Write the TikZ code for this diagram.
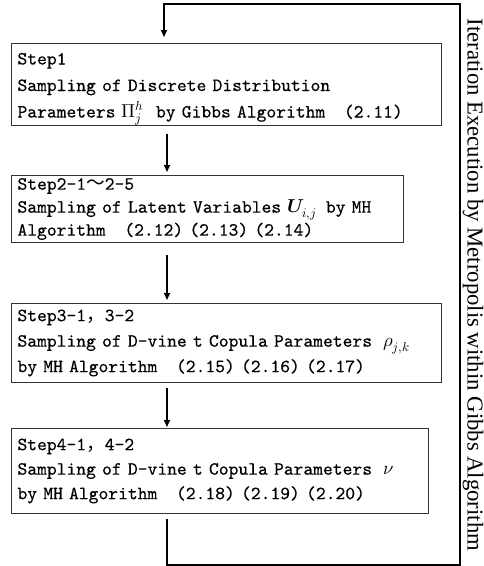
\documentclass[tikz,border=0pt]{standalone}
\usepackage{fontspec}
\usepackage{unicode-math}
\usetikzlibrary{arrows.meta}
\newfontfamily\boxmono{lmmono10-regular.otf}[FakeBold=0.4]
\newfontfamily\cjkfont{Noto Sans CJK SC}
\newfontfamily\sidefont{Liberation Serif}
\tikzset{
  stepbox/.style={draw=black!80, line width=1pt, rectangle, anchor=north west,
    inner xsep=6pt, inner ysep=0pt, align=left},
  conn/.style={draw=black, line width=1.6pt},
  arr/.style={conn, -{Triangle[width=6pt,length=7pt]}}
}
\begin{document}
\begin{tikzpicture}[x=1pt,y=-1pt]
\useasboundingbox (0,0) rectangle (484,566);
\node[stepbox, text width=418pt, minimum height=80pt,
  font=\boxmono\fontsize{18.67}{26.5}\selectfont] (b1) at (11,43)
  {\rule{0pt}{21pt}Step1\\
   Sampling of Discrete Distribution\\
   Parameters $\Pi_j^h$\hspace{6pt} by Gibbs Algorithm~~~(2.11)};
\node[stepbox, text width=380pt, minimum height=67pt,
  font=\boxmono\fontsize{18.67}{23}\selectfont] (b2) at (11,175)
  {Step2-1{\cjkfont ～}2-5\\
   Sampling of Latent Variables $\symbfit{U}_{i,j}$\, by MH\\
   Algorithm~~~(2.12) (2.13) (2.14)};
\node[stepbox, text width=418pt, minimum height=79pt,
  font=\boxmono\fontsize{18.67}{25.5}\selectfont] (b3) at (11,303)
  {Step3-1{\cjkfont ，}3-2\\
   Sampling of D-vine t Copula Parameters\ \hspace{5pt}$\rho_{j,k}$\\
   by MH Algorithm~~~(2.15) (2.16) (2.17)};
\node[stepbox, text width=405pt, minimum height=85pt,
  font=\boxmono\fontsize{18.67}{24.5}\selectfont] (b4) at (11,428)
  {Step4-1{\cjkfont ，}4-2\\
   Sampling of D-vine t Copula Parameters\ \hspace{5pt}$\nu$\\
   by MH Algorithm~~~(2.18) (2.19) (2.20)};
\node[rotate=-90, inner sep=0pt] (lbl) at (473,285)
  {\resizebox{532pt}{!}{\sidefont Iteration Execution by Metropolis within Gibbs Algorithm}};
\coordinate (ax) at (167,0);
\coordinate (tl) at (164,4);
\coordinate (tr) at (460,4);
\coordinate (br) at (460,565);
\coordinate (bl) at (167,565);
\draw[arr, shorten <=8pt, shorten >=3pt] (b1.south -| ax) -- (b2.north -| ax);
\draw[arr, shorten <=12pt, shorten >=3pt] (b2.south -| ax) -- (b3.north -| ax);
\draw[arr, shorten <=5pt, shorten >=1pt] (b3.south -| ax) -- (b4.north -| ax);
\draw[arr, shorten <=5pt, shorten >=6pt] (b4.south -| ax) -- (bl) -- (br) -- (tr) -- (tl) -- (b1.north -| tl);
\end{tikzpicture}
\end{document}
